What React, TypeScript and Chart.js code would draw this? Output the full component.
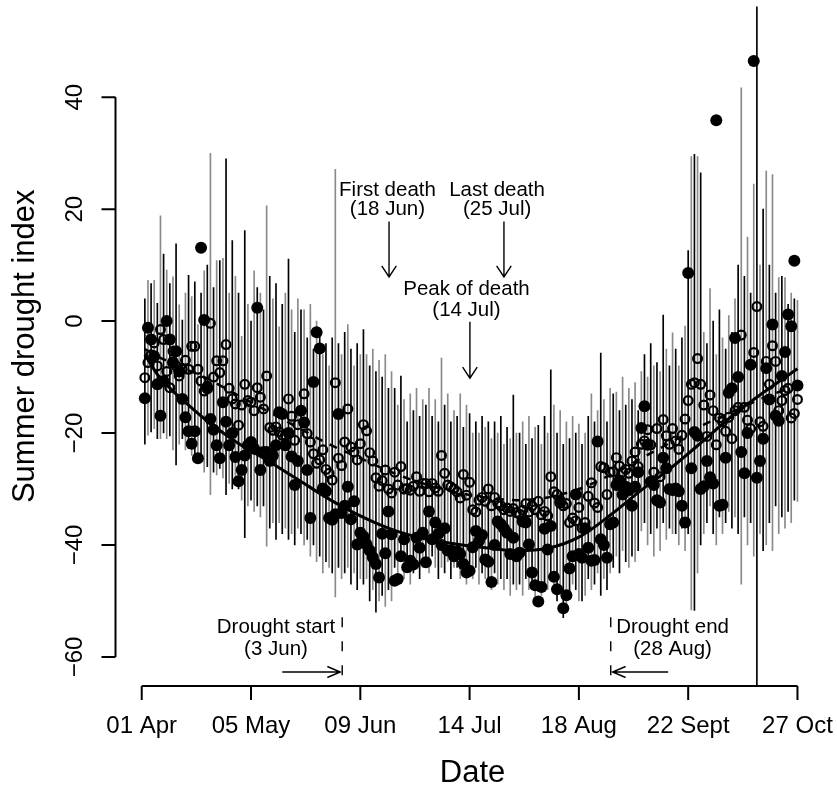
import React, { useEffect, useRef } from 'react';
import { Chart, registerables } from 'chart.js';

Chart.register(...registerables);

// Daily values, 1 Apr (day 1) to 27 Oct (day 210)
const FILLED = [
  -13.8, -1.2, -3.3, -6.3, -11.3, -16.9, -10.7, 0, -3.3, -7.4,
  -5.4, -9, -13.9, -17.2, -19.7, -21.9, -19.7, -24.5, 13.1, 0.2,
  -12, -17.5, -19.4, -22.2, -24.5, -14.5, -18, -22.2, -20, -24.3,
  -28.6, -26.6, -24, -22.2, -21.6, -22.8, 2.4, -26.6, -23.4, -23.4,
  -25, -24, -22.2, -16.3, -16.6, -22.2, -20, -24.2, -29.3, -25,
  -16, -18.1, -26.6, -35.2, -10.9, -2, -4.9, -29.9, -30.4, -35.2,
  -35.5, -34.5, -16.6, -34.3, -33, -29.6, -35.4, -32.2, -39.9, -37.8,
  -38.5, -39.9, -41, -42.2, -43.4, -45.8, -38, -41.5, -34, -38.1,
  -46.4, -46.1, -42, -39, -44, -42.8, -43.5, -38.7, -40.5, -37.8,
  -43.1, -34, -39, -36, -38, -40, -37, -41, -41, -42,
  -41.1, -41.6, -43.4, -44.9, -44.6, -40.4, -37.5, -39.3, -38.2, -42.6,
  -43, -46.6, -40, -35.8, -36.3, -37, -37.8, -41.6, -38.7, -42,
  -41.4, -35.8, -36, -39.9, -44.9, -47.2, -50.1, -47.5, -37.1, -40.8,
  -36.6, -45.7, -47.9, -32.4, -51.3, -49, -44.2, -42, -31, -41.6,
  -42.3, -37, -40.5, -42.8, -42.7, -21.5, -39, -40, -42.3, -36.3,
  -36, -29.3, -28.5, -31, -29.6, -30.2, -33, -29.6, -27, -19.1,
  -15.2, -22.1, -28.7, -29.3, -32, -32.4, -24.4, -26.3, -30, -30.2,
  -29.9, -30.4, -33, -36, 8.6, -26.3, -19.8, -20.5, -30, -29.5,
  -25, -27.9, -29, 35.9, -33, -32.8, -24.4, -12.8, -12, -3,
  -10, -23.4, -27.2, -20, -7.8, 46.5, -28, -25, -21, -8.4,
  -14, -0.6, -16.9, -17.8, -9.8, -5.5, 1.2, -0.9, 10.8, -11.5,
];

const MEAN = [
  -10.1, -7.4, -6, -3.9, -8, -1.5, -3.3, -9, -11.9, -5.4,
  -8, -9.8, -8.6, -7, -8.6, -4.5, -4.5, -8.6, -10.7, -12.5,
  -11.6, -0.4, -10, -7.1, -9.2, -7.1, -4.2, -12, -13.9, -14.8,
  -18.6, -15, -11.3, -14.2, -14.5, -16, -11.9, -13.6, -15.7, -9.8,
  -19, -19.5, -18.9, -19.8, -20.4, -20.4, -13.9, -17, -21.3, -18.5,
  -16, -13, -20.1, -21.6, -23.7, -25.4, -24.8, -23, -26.5, -27.2,
  -28.4, -11, -24.5, -25.8, -21.6, -15.7, -22.5, -23.4, -24.8, -21.9,
  -18.5, -19.6, -23.5, -25, -28, -29.5, -28.5, -26.6, -30, -30.7,
  -27, -29.3, -26, -30, -29.9, -30.2, -29.5, -27.8, -30.4, -29,
  -29, -30.5, -29, -29.8, -30.4, -24, -27.2, -29.3, -29.6, -30,
  -30.5, -31.6, -27.4, -31.1, -28.8, -33.7, -34.1, -32, -31.5, -32.2,
  -30, -33, -31.5, -32.5, -33, -33.7, -33.4, -34, -33.5, -34.2,
  -34.5, -33.8, -32.6, -34.1, -33, -33.7, -32.2, -34.6, -34, -34.8,
  -27.8, -30.5, -31, -32, -33, -32.6, -36, -35.2, -35.7, -33.3,
  -37, -36, -31.3, -28.9, -32.5, -33.3, -26, -26.2, -31, -27,
  -26.9, -24.4, -25.9, -27, -26.5, -27.2, -25, -23.4, -26, -22,
  -21.4, -19.4, -22.1, -27, -19.2, -27.8, -17.6, -20.5, -22, -19.2,
  -21.4, -22.9, -20.4, -17.5, -14.2, -11.3, -11, -6.7, -11.3, -15,
  -20.6, -13.2, -16, -22.1, -17.3, -18, -19.7, -17.2, -21, -16,
  -15.4, -2.5, -15.4, -17.7, -19.2, -5.6, 2.6, -18, -18.8, -7.2,
  -11.3, -4.4, -7.2, -16, -14.2, -12.4, -12, -17.3, -16.5, -14,
];

const HIGH = [
  4, 7.3, 6.7, 7.3, 3.2, 18.8, 12, 9.1, 6.7, 7.9,
  13.8, 2.9, 0.2, 5, 8.2, 4.4, 7, -0.6, 5, 9,
  10, 30, 6, 10.8, 10.8, 11.2, 29, 5, 14.4, 8,
  5, -2.7, 16.2, 3, 0, 9, 6, 5, 2, 20.6,
  8, 4, 6.7, -1, 3, 5, 11.1, 2, -2, 4,
  2, 2, -3, 3, -5, 0, -2, -6, -4, -8,
  -3, 27.1, -4, -6, -2, -0.6, -5, -8, -4, -6,
  -1.5, -6, -8, -5, -9, -7, -10, -6, -12, -9,
  -12, -15, -9.8, -14, -18, -13, -16, -12, -17, -14,
  -15, -12, -17, -14, -18, -6.6, -15, -13, -18, -16,
  -17, -13, -19, -15, -16.5, -20, -18, -20, -17, -19,
  -18, -21, -18, -20, -17, -22, -19, -21, -13.2, -20,
  -20, -18, -22, -17, -21, -19, -18.6, -22, -17, -20,
  -8.7, -15, -20, -16, -22, -18, -21, -17, -20, -18.4,
  -22, -20, -17, -13, -18, -16, -5.7, -14, -18, -12,
  -13, -12.7, -16, -10, -15, -12, -14, -11, -16, -9,
  -6, -10, -4, -8, -7.4, -9, 1.1, -5, -8, -2.1,
  -5, -8, -3, -0.9, 12.6, 29.4, 29.8, 29.4, 26.5, -2,
  -4, 5.8, 0, -6, 2, -3, -5, 1, -2, 4,
  10, 41.7, 8, 15, 5, 24.5, 60, 10, 20, 26.8,
  10, 26.2, 5, 7.8, 8, 7.8, 3, 5, 4, 3.7,
];

const LOW = [
  -22, -20.4, -19.8, -19.2, -21, -21, -20, -21, -20.5, -23,
  -25.7, -22, -21, -23, -22.8, -24, -25.1, -25.1, -24, -27,
  -26, -31, -27, -27.5, -26.3, -28, -31, -29, -30, -29,
  -30, -32, -38.7, -33, -32, -34, -33, -35, -33, -40.2,
  -37, -36, -39, -36, -38, -37, -39, -38, -40, -37,
  -38, -40, -39, -42, -40, -43, -42, -45, -43, -44,
  -45, -49.3, -44, -46, -45, -44, -47, -45, -48, -46,
  -47, -46, -50, -48, -52, -50, -49, -51, -48, -50,
  -44, -45, -43, -46, -44, -47, -45, -43, -46, -44,
  -43, -45, -42, -44, -46, -44, -45, -43, -46, -44,
  -44, -46, -44, -47, -45, -46, -44, -47, -45, -46,
  -46, -48, -45, -47, -46, -48, -46, -49, -47, -48,
  -47, -49, -46, -48, -47, -50, -48, -49, -47, -48,
  -46, -48, -50, -47, -53, -51, -49, -47, -48, -50,
  -50, -49, -46, -48, -47, -45, -49, -46, -48, -45,
  -44, -42, -45, -41, -43, -44, -42, -43, -41, -37.5,
  -36, -40, -38, -42, -37, -41, -36, -39, -37, -38,
  -38, -40, -37, -41, -38, -51.6, -51.7, -45, -40, -38,
  -36, -33, -38, -40, -35, -38, -36, -34, -37, -35,
  -38, -47, -35, -40, -36, -42, -70, -38, -41, -40,
  -36, -41, -33, -38, -35, -37, -34, -36, -32, -32.2,
];

const DAYS = FILLED.map((_, i) => i + 1);

// Smoothed trends
const FIT_DAYS = [1, 5, 10, 15, 20, 30, 40, 50, 60, 70, 80, 90, 100, 110, 120, 130, 140, 150, 160, 170, 180, 190, 200, 210];
const FIT_FILLED = [-6, -9.5, -12.5, -15, -17.4, -21.5, -24.8, -28.3, -31.8, -34.8, -37.2, -38.8, -39.8, -40.5, -41, -40.6, -38.6, -34.7, -30.2, -26, -21.3, -16.5, -12.4, -8.5];
const FIT_MEAN = [-5, -6.3, -7.5, -8.8, -10, -13, -16, -19, -22, -24.5, -27, -29, -30.5, -31.5, -32, -31.5, -30, -27.5, -24.5, -21.5, -18.5, -16, -13.5, -11.5];

const X_TICKS = [0, 35, 70, 105, 140, 175, 210];
const X_TICK_LABELS = ['01 Apr', '05 May', '09 Jun', '14 Jul', '18 Aug', '22 Sept', '27 Oct'];
const Y_TICKS = [40, 20, 0, -20, -40, -60];
const Y_TICK_LABELS = ['40', '20', '0', '\u221220', '\u221240', '\u221260'];

// Annotations (data units)
const NOTE_TEXTS = [
  { x: 78.7, y: 22.4, text: 'First death' },
  { x: 78.7, y: 18.9, text: '(18 Jun)' },
  { x: 113.8, y: 22.4, text: 'Last death' },
  { x: 113.8, y: 18.9, text: '(25 Jul)' },
  { x: 104.0, y: 4.6, text: 'Peak of death' },
  { x: 104.0, y: 1.0, text: '(14 Jul)' },
  { x: 43.0, y: -55.7, text: 'Drought start' },
  { x: 43.0, y: -59.6, text: '(3 Jun)' },
  { x: 170.0, y: -55.7, text: 'Drought end' },
  { x: 170.0, y: -59.6, text: '(28 Aug)' },
];
const DOWN_ARROWS = [
  { x: 79.2, from: 17.8, to: 7.9 },
  { x: 116.0, from: 17.8, to: 7.9 },
  { x: 105.1, from: -0.1, to: -10.2 },
];
const SIDE_ARROWS = [
  { y: -62.7, from: 45.0, to: 63.6 },
  { y: -62.7, from: 168.6, to: 150.8 },
];
const DROUGHT_MARKS = [64.2, 150.2];
const DROUGHT_MARK_RANGE = [-63.3, -52.7];

const FONT = '"Liberation Sans", Arial, Helvetica, sans-serif';

const rPlugin = {
  id: 'rStyle',
  afterDraw(chart: any) {
    const { ctx, chartArea } = chart;
    const xs = chart.scales.x;
    const ys = chart.scales.y;
    ctx.save();
    ctx.fillStyle = '#000';
    ctx.strokeStyle = '#000';

    // X axis
    const axY = chartArea.bottom;
    ctx.lineWidth = 2;
    ctx.beginPath();
    ctx.moveTo(xs.getPixelForValue(X_TICKS[0]), axY);
    ctx.lineTo(xs.getPixelForValue(X_TICKS[X_TICKS.length - 1]), axY);
    X_TICKS.forEach((v) => {
      const px = xs.getPixelForValue(v);
      ctx.moveTo(px, axY);
      ctx.lineTo(px, axY + 14);
    });
    ctx.stroke();
    ctx.font = '24px ' + FONT;
    ctx.textAlign = 'center';
    ctx.textBaseline = 'alphabetic';
    X_TICKS.forEach((v, i) => {
      ctx.fillText(X_TICK_LABELS[i], xs.getPixelForValue(v), axY + 47);
    });
    ctx.font = '31px ' + FONT;
    ctx.fillText('Date', (chartArea.left + chartArea.right) / 2 + 3, axY + 96);

    // Y axis
    const axX = chartArea.left;
    ctx.beginPath();
    ctx.moveTo(axX, ys.getPixelForValue(Y_TICKS[0]));
    ctx.lineTo(axX, ys.getPixelForValue(Y_TICKS[Y_TICKS.length - 1]));
    Y_TICKS.forEach((v) => {
      const py = ys.getPixelForValue(v);
      ctx.moveTo(axX, py);
      ctx.lineTo(axX - 14, py);
    });
    ctx.stroke();
    ctx.font = '24px ' + FONT;
    Y_TICKS.forEach((v, i) => {
      ctx.save();
      ctx.translate(axX - 34, ys.getPixelForValue(v));
      ctx.rotate(-Math.PI / 2);
      ctx.fillText(Y_TICK_LABELS[i], 0, 0);
      ctx.restore();
    });
    ctx.save();
    ctx.font = '31px ' + FONT;
    ctx.translate(34, (chartArea.top + chartArea.bottom) / 2);
    ctx.rotate(-Math.PI / 2);
    ctx.fillText('Summer drought index', 0, 0);
    ctx.restore();

    // Annotation texts
    ctx.font = '20.5px ' + FONT;
    NOTE_TEXTS.forEach((t) => {
      ctx.fillText(t.text, xs.getPixelForValue(t.x), ys.getPixelForValue(t.y));
    });

    // Arrows
    ctx.lineWidth = 1.4;
    DOWN_ARROWS.forEach((a) => {
      const px = xs.getPixelForValue(a.x);
      const y0 = ys.getPixelForValue(a.from);
      const y1 = ys.getPixelForValue(a.to);
      ctx.beginPath();
      ctx.moveTo(px, y0);
      ctx.lineTo(px, y1);
      ctx.moveTo(px - 7.3, y1 - 11);
      ctx.lineTo(px, y1);
      ctx.lineTo(px + 7.3, y1 - 11);
      ctx.stroke();
    });
    SIDE_ARROWS.forEach((a) => {
      const py = ys.getPixelForValue(a.y);
      const x0 = xs.getPixelForValue(a.from);
      const x1 = xs.getPixelForValue(a.to);
      const dir = x1 > x0 ? 1 : -1;
      ctx.beginPath();
      ctx.moveTo(x0, py);
      ctx.lineTo(x1, py);
      ctx.moveTo(x1 - dir * 13, py - 5.5);
      ctx.lineTo(x1, py);
      ctx.lineTo(x1 - dir * 13, py + 5.5);
      ctx.stroke();
    });

    // Drought start / end dashed marks
    ctx.setLineDash([10, 14]);
    DROUGHT_MARKS.forEach((d) => {
      const px = xs.getPixelForValue(d);
      ctx.beginPath();
      ctx.moveTo(px, ys.getPixelForValue(DROUGHT_MARK_RANGE[0]));
      ctx.lineTo(px, ys.getPixelForValue(DROUGHT_MARK_RANGE[1]));
      ctx.stroke();
    });
    ctx.setLineDash([]);
    ctx.restore();
  },
};

export default function App() {
  const canvasRef = useRef<HTMLCanvasElement | null>(null);

  useEffect(() => {
    if (!canvasRef.current) return;
    const barColors = DAYS.map((_, i) => (i % 2 === 0 ? '#000000' : '#8a8a8a'));
    const chart = new Chart(canvasRef.current, {
      type: 'scatter',
      data: {
        datasets: [
          {
            type: 'line',
            label: 'Trend (daily)',
            data: FIT_DAYS.map((d, i) => ({ x: d, y: FIT_FILLED[i] })),
            borderColor: '#000',
            borderWidth: 3,
            pointRadius: 0,
            cubicInterpolationMode: 'monotone',
            fill: false,
            order: 1,
          } as any,
          {
            type: 'scatter',
            label: 'Daily index',
            data: DAYS.map((d, i) => ({ x: d, y: FILLED[i] })),
            backgroundColor: '#000',
            borderWidth: 0,
            pointRadius: 6,
            order: 2,
          },
          {
            type: 'scatter',
            label: 'Mean',
            data: DAYS.map((d, i) => ({ x: d, y: MEAN[i] })),
            backgroundColor: 'rgba(0,0,0,0)',
            borderColor: '#000',
            borderWidth: 2.2,
            pointRadius: 4.4,
            order: 3,
          },
          {
            type: 'line',
            label: 'Trend (mean)',
            data: FIT_DAYS.map((d, i) => ({ x: d, y: FIT_MEAN[i] })),
            borderColor: '#000',
            borderWidth: 2.5,
            borderDash: [8, 8],
            pointRadius: 0,
            cubicInterpolationMode: 'monotone',
            fill: false,
            order: 4,
          } as any,
          {
            type: 'bar',
            label: 'Range',
            data: DAYS.map((d, i) => ({ x: d, y: [LOW[i], HIGH[i]] })),
            backgroundColor: barColors,
            borderWidth: 0,
            barThickness: 1,
            order: 5,
          } as any,
        ],
      },
      options: {
        responsive: false,
        animation: false,
        events: [],
        layout: { padding: { left: 115.5, right: 13.3, top: 0, bottom: 99 } },
        scales: {
          x: { type: 'linear', min: -8.4, max: 218.4, display: false, offset: false },
          y: { type: 'linear', min: -65.2, max: 56.2, display: false },
        },
        plugins: {
          legend: { display: false },
          tooltip: { enabled: false },
        },
      },
      plugins: [rPlugin],
    });
    return () => chart.destroy();
  }, []);

  return (
    <div style={{ position: 'fixed', left: 0, top: 0, width: 837, height: 785, background: '#fff' }}>
      <canvas ref={canvasRef} width={837} height={785} style={{ display: 'block', width: 837, height: 785 }} />
    </div>
  );
}
